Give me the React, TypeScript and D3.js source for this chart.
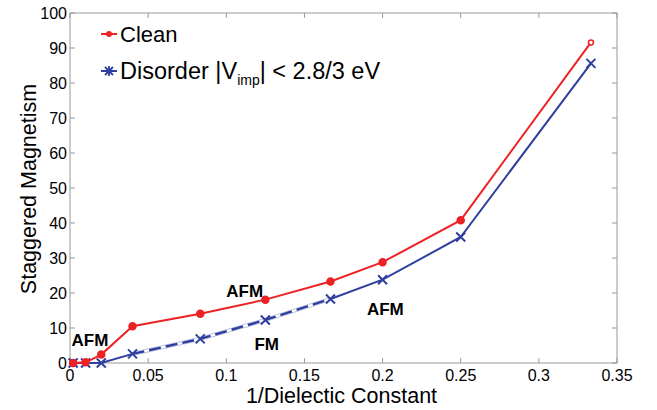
import React, { useEffect, useRef } from 'react';
import * as d3 from 'd3';

const invEps = [0.002, 0.01, 0.02, 0.04, 1 / 12, 1 / 8, 1 / 6, 1 / 5, 1 / 4, 1 / 3];
const cleanVals = [0, 0.2, 2.4, 10.5, 14.1, 18.1, 23.3, 28.8, 40.8, 91.6];
const disorderVals = [0, 0, 0, 2.6, 6.9, 12.3, 18.3, 23.8, 36.0, 85.6];
const xTicks = [0, 0.05, 0.1, 0.15, 0.2, 0.25, 0.3, 0.35];
const yTicks = [0, 10, 20, 30, 40, 50, 60, 70, 80, 90, 100];
const phaseLabels = [
  { text: 'AFM', x: 0.001, y: 4.8 },
  { text: 'AFM', x: 0.1, y: 19 },
  { text: 'FM', x: 0.118, y: 3.7 },
  { text: 'AFM', x: 0.19, y: 13.8 },
];

const RED = '#ec2224';
const BLUE = '#2e3f9e';

const App = () => {
  const svgRef = useRef<SVGSVGElement>(null);

  useEffect(() => {
    const width = 657, height = 410;
    const margin = { top: 13, right: 40, bottom: 47, left: 70 };
    const svg = d3.select(svgRef.current);
    svg.selectAll('*').remove();
    svg.attr('width', width).attr('height', height);

    const x = d3.scaleLinear().domain([0, 0.35]).range([margin.left, width - margin.right]);
    const y = d3.scaleLinear().domain([0, 100]).range([height - margin.bottom, margin.top]);
    const font = 'Liberation Sans, Arial, sans-serif';

    // frame
    svg.append('rect')
      .attr('x', x(0)).attr('y', y(100))
      .attr('width', x(0.35) - x(0)).attr('height', y(0) - y(100))
      .attr('fill', 'none').attr('stroke', '#999').attr('stroke-width', 1);

    const tl = 5;
    const g = svg.append('g').attr('stroke', '#999').attr('stroke-width', 1);
    xTicks.forEach(t => {
      g.append('line').attr('x1', x(t)).attr('x2', x(t)).attr('y1', y(0)).attr('y2', y(0) - tl);
      g.append('line').attr('x1', x(t)).attr('x2', x(t)).attr('y1', y(100)).attr('y2', y(100) + tl);
    });
    yTicks.forEach(t => {
      g.append('line').attr('x1', x(0)).attr('x2', x(0) + tl).attr('y1', y(t)).attr('y2', y(t));
      g.append('line').attr('x1', x(0.35)).attr('x2', x(0.35) - tl).attr('y1', y(t)).attr('y2', y(t));
    });

    svg.append('g').selectAll('text').data(xTicks).join('text')
      .attr('x', d => x(d)).attr('y', y(0) + 18)
      .attr('text-anchor', 'middle').attr('font-family', font).attr('font-size', 16)
      .text(d => String(d));
    svg.append('g').selectAll('text').data(yTicks).join('text')
      .attr('x', x(0) - 3).attr('y', d => y(d) + 5.5)
      .attr('text-anchor', 'end').attr('font-family', font).attr('font-size', 16)
      .text(d => String(d));

    svg.append('text')
      .attr('x', (x(0) + x(0.35)) / 2 - 2).attr('y', 403)
      .attr('text-anchor', 'middle').attr('font-family', font).attr('font-size', 21.5)
      .text('1/Dielectic Constant');
    svg.append('text')
      .attr('transform', `translate(36,${(y(0) + y(100)) / 2 + 1}) rotate(-90)`)
      .attr('text-anchor', 'middle').attr('font-family', font).attr('font-size', 21.5)
      .text('Staggered Magnetism');

    const pts = (vals: number[]) => invEps.map((e, i) => [e, vals[i]] as [number, number]);
    const line = d3.line<[number, number]>().x(d => x(d[0])).y(d => y(d[1]));

    // disorder line
    const dis = pts(disorderVals);
    const dashStart = 3, dashEnd = 6;
    svg.append('path').attr('d', line(dis.slice(0, dashStart + 1)))
      .attr('fill', 'none').attr('stroke', BLUE).attr('stroke-width', 2);
    svg.append('path').attr('d', line(dis.slice(dashEnd)))
      .attr('fill', 'none').attr('stroke', BLUE).attr('stroke-width', 2);
    const mid = dis.slice(dashStart, dashEnd + 1);
    [-1.6, 1.6].forEach(off => {
      svg.append('path').attr('d', line(mid)).attr('transform', `translate(0,${off})`)
        .attr('fill', 'none').attr('stroke', '#8f99cc').attr('stroke-width', 0.6);
    });
    svg.append('path').attr('d', line(mid))
      .attr('fill', 'none').attr('stroke', BLUE).attr('stroke-width', 2.4)
      .attr('stroke-dasharray', '12,5');

    const s = 4.5;
    svg.append('g').selectAll('path').data(dis).join('path')
      .attr('d', d => `M${x(d[0]) - s},${y(d[1]) - s}L${x(d[0]) + s},${y(d[1]) + s}M${x(d[0]) - s},${y(d[1]) + s}L${x(d[0]) + s},${y(d[1]) - s}`)
      .attr('stroke', BLUE).attr('stroke-width', 2).attr('fill', 'none');

    // clean line
    const cl = pts(cleanVals);
    svg.append('path').attr('d', line(cl))
      .attr('fill', 'none').attr('stroke', RED).attr('stroke-width', 2);
    svg.append('g').selectAll('circle').data(cl).join('circle')
      .attr('cx', d => x(d[0])).attr('cy', d => y(d[1]))
      .attr('r', (d, i) => i === cl.length - 1 ? 2.5 : 3.5)
      .attr('fill', (d, i) => i === cl.length - 1 ? 'white' : RED)
      .attr('stroke', RED).attr('stroke-width', 1.5);

    // phase labels
    svg.append('g').selectAll('text').data(phaseLabels).join('text')
      .attr('x', d => x(d.x)).attr('y', d => y(d.y))
      .attr('font-family', font).attr('font-weight', 'bold').attr('font-size', 17)
      .text(d => d.text);

    // legend
    const lg = svg.append('g');
    lg.append('line').attr('x1', 101).attr('x2', 117).attr('y1', 34).attr('y2', 34)
      .attr('stroke', RED).attr('stroke-width', 2);
    lg.append('circle').attr('cx', 109).attr('cy', 34).attr('r', 3).attr('fill', RED);
    lg.append('text').attr('x', 120).attr('y', 42).attr('font-family', font).attr('font-size', 22)
      .text('Clean');

    lg.append('line').attr('x1', 101).attr('x2', 117).attr('y1', 71).attr('y2', 71)
      .attr('stroke', BLUE).attr('stroke-width', 2);
    const cx = 109, cy = 71, r = 4;
    lg.append('path')
      .attr('d', `M${cx - r},${cy - r}L${cx + r},${cy + r}M${cx - r},${cy + r}L${cx + r},${cy - r}M${cx},${cy - r - 1}L${cx},${cy + r + 1}`)
      .attr('stroke', BLUE).attr('stroke-width', 1.8);
    const t = lg.append('text').attr('x', 120).attr('y', 79).attr('font-family', font).attr('font-size', 23.5);
    t.append('tspan').text('Disorder |V');
    t.append('tspan').attr('font-size', 14).attr('dy', 6).text('imp');
    t.append('tspan').attr('dy', -6).text('| < 2.8/3 eV');
  }, []);

  return <svg ref={svgRef} style={{ position: 'absolute', left: 0, top: 0 }}></svg>;
};

export default App;
